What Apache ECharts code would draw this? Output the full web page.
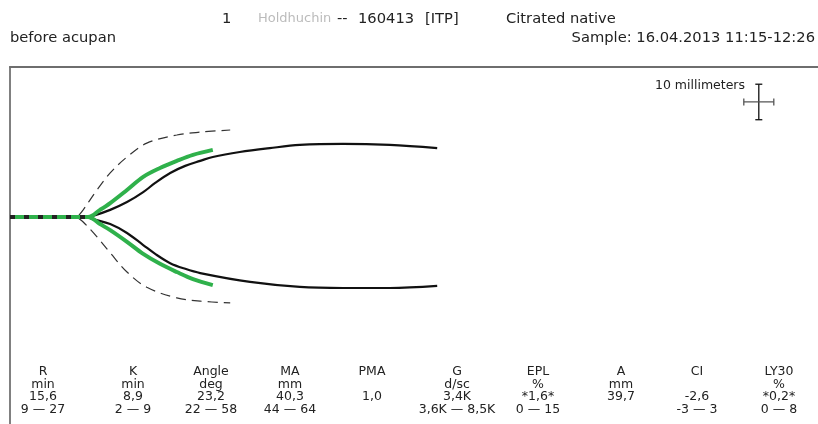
<!DOCTYPE html>
<html>
<head>
<meta charset="utf-8">
<title>TEG</title>
<script src="https://cdn.jsdelivr.net/npm/echarts@6/dist/echarts.min.js"></script>
<style>
  html, body { margin: 0; padding: 0; background: #fff; }
  #chart { width: 818px; height: 424px; }
</style>
</head>
<body>
<div id="chart"></div>
<script>
// time in minutes, amplitude in mm (upper trace positive, lower negative)
const baselineTime = [0, 12.8]
const baselineAmp = [0, 0]

const blackTopTime = [12.8, 13.8, 16.7, 19.5, 22.2, 24.2, 26.7, 29.2, 31.7, 33.8, 38.3, 43.3, 48.3, 55.5, 63.3, 71.2]
const blackTopAmp = [0, 0.3, 2.0, 4.2, 7.0, 9.6, 12.4, 14.4, 15.8, 16.9, 18.3, 19.4, 20.3, 20.6, 20.3, 19.4]
const blackBottomTime = [12.8, 13.8, 16.7, 19.5, 22.2, 24.2, 26.7, 29.2, 31.7, 40, 48.3, 55.5, 63.3, 71.2]
const blackBottomAmp = [0, -0.6, -2.0, -4.5, -7.9, -10.4, -13.0, -14.6, -15.8, -18.3, -19.7, -20, -20, -19.4]

const greenTopTime = [0, 13.0, 15.0, 16.7, 19.5, 22.2, 25.0, 27.8, 30.5, 33.8]
const greenTopAmp = [0, 0, 2.0, 3.9, 7.6, 11.3, 13.8, 15.8, 17.5, 18.9]
const greenBottomTime = [0, 13.0, 15.0, 16.7, 19.5, 22.2, 25.0, 27.8, 30.5, 33.8]
const greenBottomAmp = [0, 0, -2.0, -3.7, -7.0, -10.4, -13.2, -15.5, -17.5, -19.2]

const normTopTime = [11.5, 12.2, 14.5, 16.7, 19.5, 22.8, 27.8, 31.7, 36.7]
const normTopAmp = [0.5, 2.0, 7.6, 12.4, 16.9, 20.8, 23.1, 23.9, 24.5]
const normBottomTime = [11.5, 12.2, 14.5, 16.7, 19.5, 22.8, 27.8, 31.7, 36.7]
const normBottomAmp = [-0.5, -1.4, -5.6, -10.1, -15.5, -19.8, -22.8, -23.7, -24.2]

// 10 mm scale cross (5 min horizontally at 2 mm/min)
const scaleCenter = [124.8, 32.4]
const scaleHalfTime = 2.5
const scaleHalfAmp = 5

// result table
const paramNames = ['R', 'K', 'Angle', 'MA', 'PMA', 'G', 'EPL', 'A', 'CI', 'LY30']
const paramUnits = ['min', 'min', 'deg', 'mm', '', 'd/sc', '%', 'mm', '', '%']
const paramValues = ['15,6', '8,9', '23,2', '40,3', '1,0', '3,4K', '*1,6*', '39,7', '-2,6', '*0,2*']
const paramRanges = ['9 \u2014 27', '2 \u2014 9', '22 \u2014 58', '44 \u2014 64', '', '3,6K \u2014 8,5K', '0 \u2014 15', '', '-3 \u2014 3', '0 \u2014 8']
const columnX = [43, 133, 211, 290, 372, 457, 538, 621, 697, 779]

const zip = (t, a) => t.map((v, i) => [v, a[i]])

const chart = echarts.init(document.getElementById('chart'))
const font = '"DejaVu Sans", Verdana, sans-serif'
const GREEN = '#2fb14b'

const pxPerMin = 6
const gridLeft = 10
const gridWidth = 818 - gridLeft

const tableRows = [paramNames, paramUnits, paramValues, paramRanges]
const rowY = [372, 384.5, 397, 409.5]
const tableText = []
tableRows.forEach((row, r) => {
  row.forEach((txt, c) => {
    if (!txt) return
    tableText.push({
      type: 'text',
      x: columnX[c],
      y: rowY[r],
      style: { text: txt, font: '12.5px ' + font, fill: '#222', align: 'center', verticalAlign: 'middle' }
    })
  })
})

const head = (x, y, text, extra) => ({
  type: 'text', x, y,
  style: Object.assign({ text, font: '14.7px ' + font, fill: '#222', verticalAlign: 'middle' }, extra || {})
})
const headerText = [
  head(222, 19, '1'),
  head(258, 19, 'Holdhuchin', { font: '13px ' + font, fill: 'rgba(120,120,120,0.5)', shadowBlur: 3, shadowColor: '#888' }),
  head(337, 19, '--'),
  head(358, 19, '160413'),
  head(425, 19, '[ITP]'),
  head(506, 19, 'Citrated native'),
  head(10, 38, 'before acupan'),
  head(815, 38, 'Sample: 16.04.2013 11:15-12:26', { align: 'right' }),
  head(745, 86, '10 millimeters', { font: '12.5px ' + font, align: 'right' })
]

const blackLine = { color: '#111', width: 2.2 }
const greenLine = { color: GREEN, width: 4 }
const dashLine = { color: '#333', width: 1.2, type: [10, 6] }
const curve = { type: 'line', smooth: 0.35, showSymbol: false }

chart.setOption({
  animation: false,
  grid: { left: gridLeft, right: 0, top: 67, bottom: 0 },
  xAxis: {
    type: 'value',
    position: 'top',
    min: 0,
    max: gridWidth / pxPerMin,
    axisLine: { show: true, onZero: false, lineStyle: { color: '#6e6e6e', width: 2 } },
    axisTick: { show: false },
    axisLabel: { show: false },
    splitLine: { show: false }
  },
  yAxis: {
    type: 'value',
    min: -58.31,
    max: 42.25,
    axisLine: { show: true, onZero: false, lineStyle: { color: '#808080', width: 2 } },
    axisTick: { show: false },
    axisLabel: { show: false },
    splitLine: { show: false }
  },
  series: [
    Object.assign({}, curve, { data: zip(normTopTime, normTopAmp), lineStyle: dashLine, z: 2 }),
    Object.assign({}, curve, { data: zip(normBottomTime, normBottomAmp), lineStyle: dashLine, z: 2 }),
    Object.assign({}, curve, { data: zip(blackTopTime, blackTopAmp), lineStyle: blackLine, z: 3 }),
    Object.assign({}, curve, { data: zip(blackBottomTime, blackBottomAmp), lineStyle: blackLine, z: 3 }),
    Object.assign({}, curve, { data: zip(greenTopTime, greenTopAmp), lineStyle: greenLine, z: 4 }),
    Object.assign({}, curve, { data: zip(greenBottomTime, greenBottomAmp), lineStyle: greenLine, z: 4 }),
    { type: 'line', data: zip(baselineTime, baselineAmp), showSymbol: false, lineStyle: { color: '#222', width: 4, type: [5, 9] }, z: 5 },
    {
      type: 'line',
      data: [[scaleCenter[0], scaleCenter[1] + scaleHalfAmp], [scaleCenter[0], scaleCenter[1] - scaleHalfAmp]],
      symbol: 'rect', symbolSize: [7, 1.3], showSymbol: true,
      itemStyle: { color: '#111' }, lineStyle: { color: '#111', width: 1.3 }, z: 5
    },
    {
      type: 'line',
      data: [[scaleCenter[0] - scaleHalfTime, scaleCenter[1]], [scaleCenter[0] + scaleHalfTime, scaleCenter[1]]],
      symbol: 'rect', symbolSize: [1.3, 7], showSymbol: true,
      itemStyle: { color: '#555' }, lineStyle: { color: '#555', width: 1.3 }, z: 5
    }
  ],
  graphic: headerText.concat(tableText)
})
</script>
</body>
</html>
